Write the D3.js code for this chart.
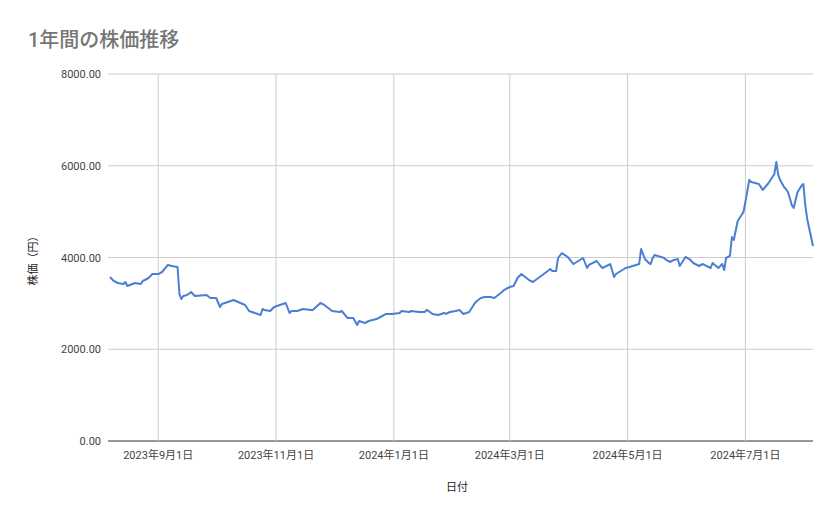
<!DOCTYPE html>
<html><head><meta charset="utf-8">
<script src="https://cdn.jsdelivr.net/npm/d3@7"></script>
<style>body{margin:0;background:#fff;font-family:Roboto,"Noto Sans CJK JP",sans-serif;}</style>
</head><body>
<svg id="chart" width="839" height="519"></svg>
<script>
(function () {
    'use strict';

    // days since 2023-08-06 and closing price
    const startDate = new Date(2023, 7, 6);
    const endDate = new Date(2024, 7, 5);
    const dayOffsets = [1,3,5,8,9,10,14,17,18,21,23,26,28,31,33,36,37,38,39,41,43,45,51,53,56,58,59,65,71,73,79,80,81,84,86,92,94,95,98,101,105,106,110,112,116,120,121,124,127,129,130,133,135,139,141,144,147,151,152,156,157,161,164,165,166,168,171,174,175,177,180,182,184,187,190,191,193,195,198,200,204,205,207,208,210,212,214,218,220,227,229,230,232,233,235,238,241,246,248,249,253,255,256,260,262,263,268,270,275,276,278,280,281,282,283,288,289,291,293,295,296,299,301,303,306,308,312,313,316,318,319,320,322,323,324,326,329,330,332,333,337,339,342,345,346,347,348,350,351,352,353,354,355,357,359,360,361,362,365];
    const prices = [3575,3488,3444,3422,3466,3379,3444,3422,3488,3553,3640,3640,3684,3837,3815,3793,3204,3095,3160,3182,3248,3160,3182,3117,3117,2921,2986,3073,2965,2834,2747,2877,2856,2834,2921,3008,2790,2834,2834,2877,2856,2856,3008,2965,2834,2812,2834,2681,2681,2529,2616,2572,2616,2659,2703,2769,2769,2790,2834,2812,2834,2812,2812,2856,2834,2769,2747,2790,2769,2812,2834,2856,2769,2812,3008,3051,3117,3139,3139,3117,3248,3291,3335,3356,3378,3553,3640,3509,3466,3684,3749,3706,3706,3989,4098,4011,3858,3989,3771,3837,3924,3815,3771,3858,3575,3640,3771,3793,3858,4185,3967,3880,3858,3989,4054,3989,3946,3902,3946,3967,3815,4011,3967,3880,3815,3858,3771,3880,3771,3858,3728,3989,4033,4447,4381,4796,4992,5210,5690,5646,5603,5472,5624,5821,6082,5799,5690,5537,5494,5428,5298,5145,5080,5428,5559,5603,5145,4840,4250];
    const yTicks = [0, 2000, 4000, 6000, 8000];
    const xTicks = [new Date(2023,8,1), new Date(2023,10,1), new Date(2024,0,1), new Date(2024,2,1), new Date(2024,4,1), new Date(2024,6,1)];

    const series = dayOffsets.map((d, i) => ({date: d3.timeDay.offset(startDate, d), value: prices[i]}));

    const svg = d3.select('#chart');
    const left = 108, right = 813, top = 74, bottom = 441;

    const x = d3.scaleTime().domain([startDate, endDate]).range([left, right]);
    const y = d3.scaleLinear().domain([0, 8000]).range([bottom, top]);

    svg.append("text").attr("x", 28).attr("y", 47)
        .attr("fill", "#757575").style("font-size", "20px").style("font-weight", "500")
        .text("1年間の株価推移");

    svg.append("g").selectAll("line").data(yTicks).join("line")
        .attr("x1", left).attr("x2", right)
        .attr("y1", d => y(d)).attr("y2", d => y(d))
        .attr("stroke", d => d === 0 ? "#333" : "#ccc");

    svg.append("g").selectAll("line").data(xTicks).join("line")
        .attr("x1", d => x(d)).attr("x2", d => x(d))
        .attr("y1", top).attr("y2", bottom)
        .attr("stroke", "#ccc");

    svg.append("g").selectAll("text").data(yTicks).join("text")
        .attr("x", 101).attr("y", d => y(d) + 4)
        .attr("text-anchor", "end").style("font-size", "11px").attr("fill", "#444")
        .text(d3.format(".2f"));

    svg.append("g").selectAll("text").data(xTicks).join("text")
        .attr("x", d => x(d)).attr("y", 459)
        .attr("text-anchor", "middle").style("font-size", "11px").attr("fill", "#444")
        .text(d => `${d.getFullYear()}年${d.getMonth() + 1}月${d.getDate()}日`);

    svg.append("text").attr("x", 457).attr("y", 491)
        .attr("text-anchor", "middle").style("font-size", "11px").attr("fill", "#222")
        .text("日付");

    svg.append("text").attr("transform", "translate(37,258) rotate(-90)")
        .attr("text-anchor", "middle").style("font-size", "11px").attr("fill", "#222")
        .text("株価（円）");

    const line = d3.line().x(d => x(d.date)).y(d => y(d.value));
    svg.append("path").datum(series)
        .attr("d", line).attr("fill", "none")
        .attr("stroke", "#4a7fd4").attr("stroke-width", 2).attr("stroke-linejoin", "round");
}());
</script>
</body></html>
